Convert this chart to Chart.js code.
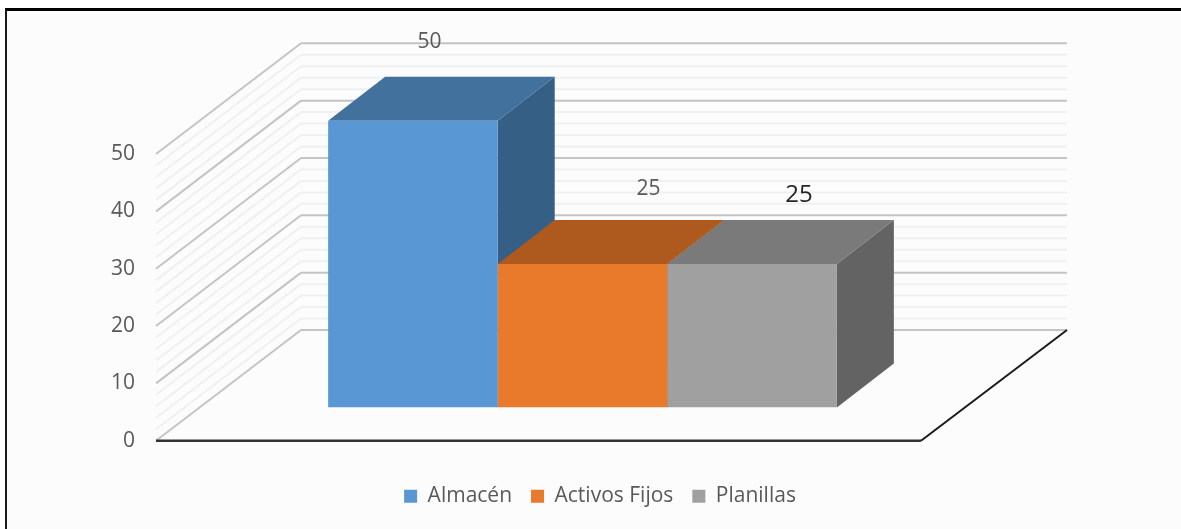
<!DOCTYPE html>
<html>
<head>
<meta charset="utf-8">
<script src="https://cdn.jsdelivr.net/npm/chart.js@4"></script>
<style>
	html, body { margin: 0; padding: 0; background: #fff; overflow: hidden; }
	#frame { position: fixed; left: 5px; top: 8px; right: 0; bottom: 0; background: #fcfcfc; border-left: 2px solid #1a1a1a; border-top: 3px solid #000; }
	#wrap { position: fixed; left: 0; top: 0; width: 1181px; height: 529px; }
</style>
</head>
<body>
<div id="frame"></div>
<div id="wrap"><canvas id="grafico"></canvas></div>
<script>
var categorias = ['Almacén', 'Activos Fijos', 'Planillas'];
var valores = [50, 25, 25];
var frente = ['#5997d4', '#e9792b', '#a0a0a0'];
var arriba = ['#42719d', '#ae5a1f', '#7a7a7a'];
var lado = ['#355f84', '#8e4a1a', '#636363'];

var fuente = '"Open Sans", sans-serif';

// bar depth, and how far the floor reaches in front of and behind the bars
var fondoBarra = { x: 57, y: -44 };
var adelante = { x: -44, y: 33.3 };
var atras = { x: 101, y: -77.4 };

// hand placed labels of the original, relative to the top of each bar
var etiquetas = [
	{ dx: 16.5, dy: -79, size: 21, color: '#595959' },
	{ dx: 66, dy: -75, size: 21, color: '#595959' },
	{ dx: 47, dy: -69, size: 24, color: '#262626' }
];

function poligono(ctx, puntos, color) {
	ctx.fillStyle = color;
	ctx.beginPath();
	ctx.moveTo(puntos[0][0], puntos[0][1]);
	for (var i = 1; i < puntos.length; i++) {
		ctx.lineTo(puntos[i][0], puntos[i][1]);
	}
	ctx.closePath();
	ctx.fill();
}

function linea(ctx, x1, y1, x2, y2, color, ancho) {
	ctx.strokeStyle = color;
	ctx.lineWidth = ancho;
	ctx.beginPath();
	ctx.moveTo(x1, y1);
	ctx.lineTo(x2, y2);
	ctx.stroke();
}

var plugin3d = {
	id: 'plugin3d',
	afterLayout: function(chart) {
		// the legend is centred on the original's wider chart, not on this canvas
		chart.legend.left = 19;
		chart.legend.right = 1181;
	},
	beforeDatasetsDraw: function(chart) {
		var ctx = chart.ctx;
		var area = chart.chartArea;
		var y = chart.scales.y;
		ctx.save();

		// walls
		y.ticks.forEach(function(t) {
			if (t.value % 10 === 0) return;
			var py = y.getPixelForValue(t.value);
			linea(ctx, area.left + adelante.x, py + adelante.y, area.left + atras.x, py + atras.y, '#f0f0f0', 2);
			linea(ctx, area.left + atras.x, py + atras.y, area.right + atras.x + 1, py + atras.y, '#f0f0f0', 2);
		});
		y.ticks.forEach(function(t) {
			if (t.value % 10 !== 0) return;
			var py = y.getPixelForValue(t.value);
			linea(ctx, area.left + adelante.x, py + adelante.y, area.left + atras.x, py + atras.y, '#c4c4c4', 2);
			linea(ctx, area.left + atras.x, py + atras.y, area.right + atras.x + 1, py + atras.y, '#c4c4c4', 2);
		});

		// floor edges
		var y0 = y.getPixelForValue(0);
		linea(ctx, area.right + adelante.x, y0 + adelante.y, area.right + atras.x + 1, y0 + atras.y, '#1a1a1a', 2);
		linea(ctx, area.left + adelante.x, y0 + adelante.y, area.right + adelante.x, y0 + adelante.y, '#333333', 2.5);

		// side and top faces, left to right so the later bars cover the earlier ones
		categorias.forEach(function(c, i) {
			var bar = chart.getDatasetMeta(i).data[0];
			var izq = bar.x - bar.width / 2;
			var der = bar.x + bar.width / 2;
			poligono(ctx, [[der, bar.y], [der + fondoBarra.x, bar.y + fondoBarra.y], [der + fondoBarra.x, bar.base + fondoBarra.y], [der, bar.base]], lado[i]);
			poligono(ctx, [[izq, bar.y], [der, bar.y], [der + fondoBarra.x, bar.y + fondoBarra.y], [izq + fondoBarra.x, bar.y + fondoBarra.y]], arriba[i]);
		});
		ctx.restore();
	},
	afterDatasetsDraw: function(chart) {
		var ctx = chart.ctx;
		ctx.save();
		ctx.textAlign = 'center';
		ctx.textBaseline = 'middle';
		categorias.forEach(function(c, i) {
			var bar = chart.getDatasetMeta(i).data[0];
			var e = etiquetas[i];
			ctx.font = e.size + 'px ' + fuente;
			ctx.fillStyle = e.color;
			ctx.fillText(String(valores[i]), bar.x + e.dx, bar.y + e.dy);
		});
		ctx.restore();
	}
};

var conjuntos = categorias.map(function(c, i) {
	return {
		label: c,
		data: [valores[i]],
		backgroundColor: frente[i],
		borderWidth: 0,
		barPercentage: 1,
		categoryPercentage: 0.665
	};
});

new Chart(document.getElementById('grafico'), {
	type: 'bar',
	data: { labels: [''], datasets: conjuntos },
	plugins: [plugin3d],
	options: {
		responsive: true,
		maintainAspectRatio: false,
		animation: false,
		layout: { padding: { left: 0, top: 120.7, right: 216, bottom: 12.3 } },
		plugins: {
			tooltip: { enabled: false },
			legend: {
				position: 'bottom',
				labels: {
					boxWidth: 13,
					boxHeight: 13,
					padding: 19,
					color: '#595959',
					font: { family: fuente, size: 21 }
				}
			}
		},
		scales: {
			x: {
				grid: { display: false },
				border: { display: false },
				ticks: { display: false },
				afterFit: function(scale) { scale.height = 59.3; }
			},
			y: {
				min: 0,
				max: 50,
				grid: { display: false, drawTicks: false },
				border: { display: false },
				afterFit: function(scale) { scale.width = 200; },
				ticks: {
					stepSize: 2,
					autoSkip: false,
					padding: 65,
					labelOffset: 33.3,
					color: '#595959',
					font: { family: fuente, size: 21 },
					callback: function(v) { return v % 10 === 0 ? String(v) : ''; }
				}
			}
		}
	}
});
</script>
</body>
</html>
